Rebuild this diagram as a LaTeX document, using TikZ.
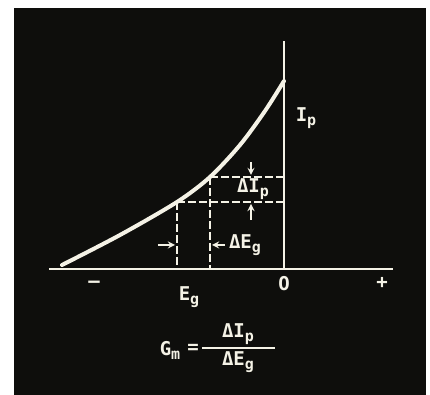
\documentclass[tikz,border=0pt]{standalone}
\usepackage{fontspec}
\setmainfont{DejaVu Sans Mono}
\usetikzlibrary{positioning}
\definecolor{ink}{RGB}{244,242,230}
\definecolor{board}{RGB}{14,14,12}
\newcommand{\lowr}[1]{\raisebox{-2pt}{\fontsize{7.5}{8}\selectfont #1}}

\begin{document}
\begin{tikzpicture}[
  x=0.5pt,y=-0.5pt,
  font=\fontsize{9.5}{11}\selectfont\bfseries,
  axis/.style={ink,line width=1.2pt},
  curve/.style={ink,line width=2pt,line cap=round},
  guide/.style={ink,line width=0.8pt,dash pattern=on 4pt off 1.5pt},
  tick/.style={ink,line width=0.6pt,->,>=stealth},
  lbl/.style={text=ink,inner sep=1pt}
]
\fill[white] (0,0) rectangle (430,395);
\fill[board] (14,8) rectangle (426,395);
% axes
\coordinate (org) at (284,269); \coordinate (xl) at (49,269);
\coordinate (xr)  at (393,269); \coordinate (yt) at (284,41);
\draw[axis] (xl)--(xr); \draw[axis] (org)--(yt);
% characteristic
\draw[curve] plot[smooth] coordinates {(62,265) (120,235) (177,202) (210,177) (240,145) (265,111) (284,81)};
% increments
\coordinate (p1) at (177,202); \coordinate (p2) at (210,177);
\coordinate (b1) at (177,269); \coordinate (b2) at (210,269);
\coordinate (r1) at (284,202); \coordinate (r2) at (284,177);
\draw[guide] (p1)--(r1); \draw[guide] (p2)--(r2);
\draw[guide] (p1)--(b1); \draw[guide] (p2)--(b2);
\coordinate (ia) at (251,162); \coordinate (ia2) at (251,175);
\coordinate (ib) at (251,220); \coordinate (ib2) at (251,204);
\draw[tick] (ia)--(ia2); \draw[tick] (ib)--(ib2);
\coordinate (ea) at (158,245); \coordinate (ea2) at (175,245);
\coordinate (eb) at (225,245); \coordinate (eb2) at (212,245);
\draw[tick] (ea)--(ea2); \draw[tick] (eb)--(eb2);
% labels
\node[lbl] (dip) at (253,189) {ΔI\lowr{p}};
\node[lbl] (deg) at (245,245) {ΔE\lowr{g}};
\node[lbl] (ip)  at (306,118) {I\lowr{p}};
\node[lbl] (mns) at (94,284)  {–};
\node[lbl] (zer) at (284,284) {O};
\node[lbl] (pls) at (382,283) {+};
\node[lbl] (eg)  at (189,297) {E\lowr{g}};
% formula
\node[lbl] (gm)  at (170,350) {G\lowr{m}};
\node[lbl] (eq)  at (193,349) {=};
\coordinate (fl) at (202,348); \coordinate (fr) at (275,348);
\draw[ink,line width=0.8pt] (fl)--(fr);
\node[lbl] (num) at (238,334) {ΔI\lowr{p}};
\node[lbl] (den) at (238,362) {ΔE\lowr{g}};
\end{tikzpicture}
\end{document}
